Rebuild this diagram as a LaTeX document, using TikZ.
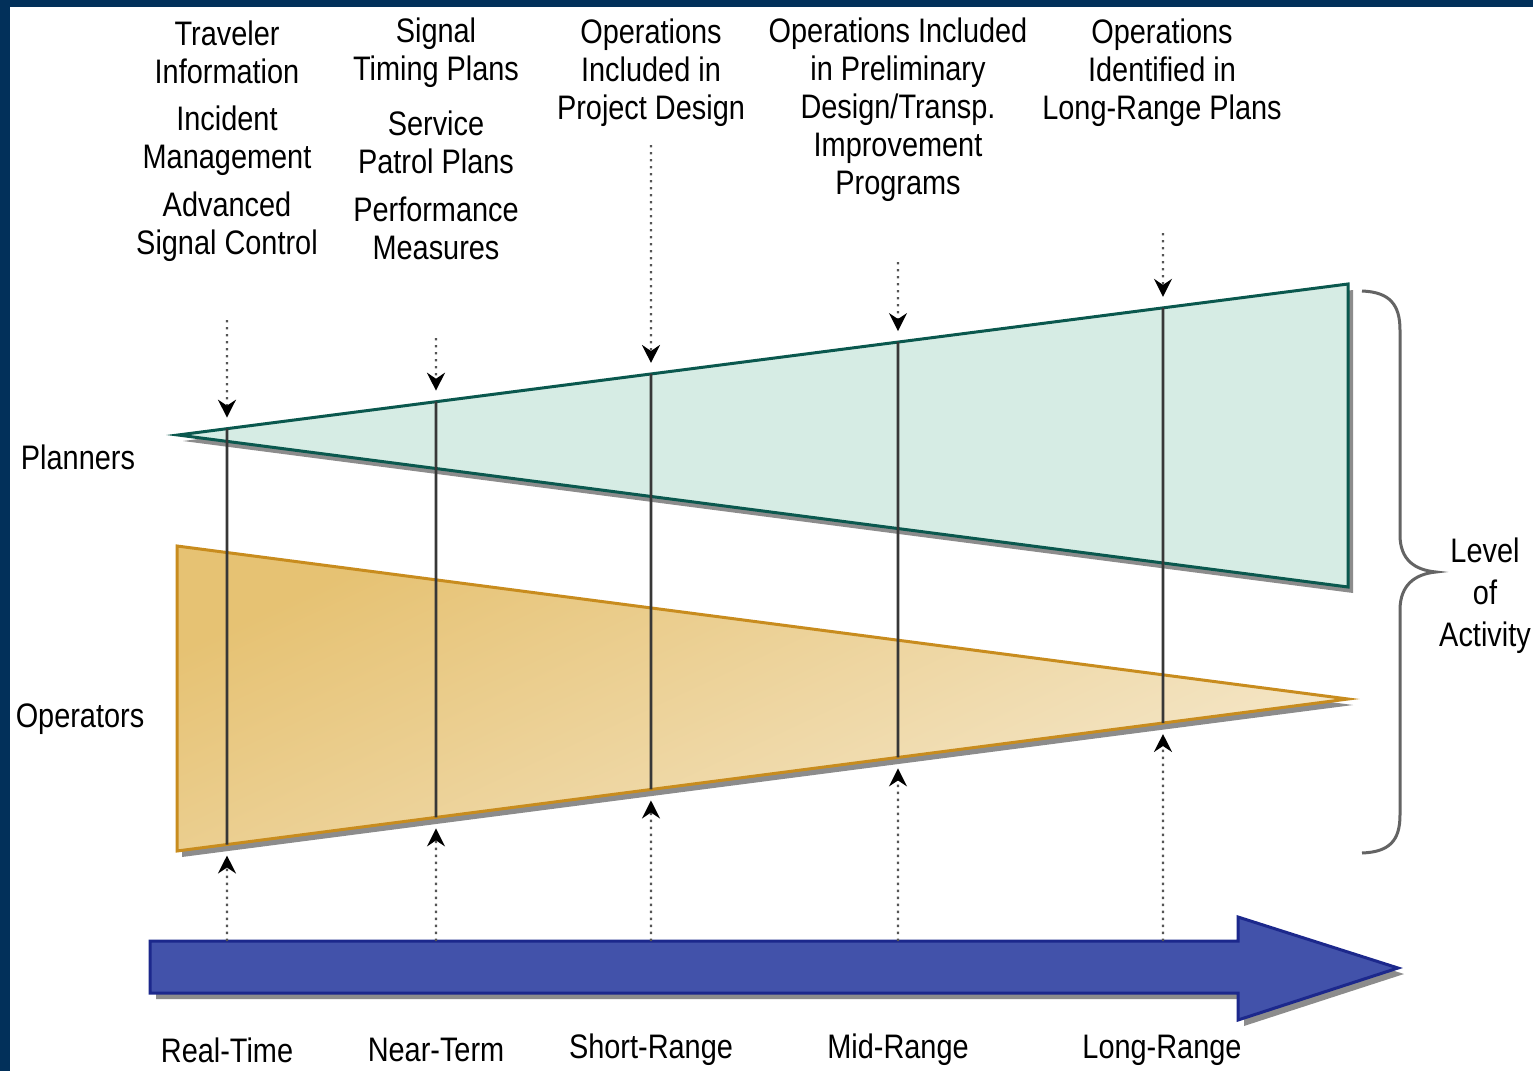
\documentclass[tikz,border=0pt]{standalone}
\usepackage{fontspec}
\setmainfont{Liberation Sans}[FakeStretch=0.85]
\usetikzlibrary{arrows.meta,calc}
\definecolor{framebl}{RGB}{2,48,90}
\definecolor{tealfill}{RGB}{214,236,228}
\definecolor{tealline}{RGB}{10,88,78}
\definecolor{tantop}{RGB}{230,194,115}
\definecolor{tanbot}{RGB}{245,232,204}
\definecolor{tanline}{RGB}{200,140,30}
\definecolor{shadowgr}{RGB}{140,140,140}
\definecolor{blfill}{RGB}{66,82,170}
\definecolor{blline}{RGB}{28,40,140}
\definecolor{vgray}{RGB}{55,55,55}
\definecolor{dotgray}{RGB}{85,85,85}
\definecolor{bracegr}{RGB}{100,100,100}
\begin{document}
\begin{tikzpicture}[x=0.5pt,y=-0.5pt,
  lab/.style={font=\fontsize{17}{19}\selectfont, align=center, inner sep=0pt},
  sidelab/.style={font=\fontsize{17}{21}\selectfont, align=center, inner sep=0pt},
  vline/.style={draw=vgray, line width=1.4pt},
  dotarrow/.style={draw=dotgray, line width=1.1pt, dash pattern=on 1.2pt off 2.3pt,
     -{Stealth[length=9pt,width=9pt,inset=3pt,black]}},
  tribox/.style={line width=1.5pt, line join=miter},
  shadowshape/.style={fill=shadowgr}]
\useasboundingbox (0,0) rectangle (1533,1071);
\fill[white] (0,0) rectangle (1533,1071);
\fill[framebl] (0,0) rectangle (1533,7);
\fill[framebl] (0,0) rectangle (10,1071);

% triangle corners
\coordinate (PA) at (178,435);
\coordinate (PT) at (1348,284);
\coordinate (PB) at (1348,587);
\coordinate (OT) at (177,546);
\coordinate (OB) at (177,851);
\coordinate (OA) at (1348,699);

% shadows
\fill[shadowshape] ([shift={(5,6)}]PA) -- ([shift={(5,6)}]PT) -- ([shift={(5,6)}]PB) -- cycle;
\fill[shadowshape] ([shift={(5,6)}]OT) -- ([shift={(5,6)}]OA) -- ([shift={(5,6)}]OB) -- cycle;

% planners triangle
\filldraw[tribox, fill=tealfill, draw=tealline] (PA) -- (PT) -- (PB) -- cycle;
% operators triangle
\shadedraw[tribox, top color=tantop, bottom color=tanbot, shading angle=25, draw=tanline]
  (OT) -- (OA) -- (OB) -- cycle;

% blue time arrow
\fill[shadowshape] (156,947) -- (1244,947) -- (1244,923) -- (1404,974) -- (1244,1026) -- (1244,999) -- (156,999) -- cycle;
\filldraw[fill=blfill, draw=blline, line width=1.5pt, line join=miter]
  (150,941) -- (1238,941) -- (1238,917) -- (1398,968) -- (1238,1020) -- (1238,993) -- (150,993) -- cycle;

% vertical lines and dotted arrows
\foreach \x/\n/\s in {227/1/320, 436/2/338, 651/3/145, 898/4/262, 1163/5/233} {
  \coordinate (top\n) at ($(PA)!{(\x-178)/1170}!(PT)$);
  \coordinate (bot\n) at ($(OB)!{(\x-177)/1171}!(OA)$);
  \coordinate (ds\n) at (\x,\s);
  \coordinate (dt\n) at ($(top\n)+(0,-11)$);
  \coordinate (us\n) at (\x,941);
  \coordinate (ut\n) at ($(bot\n)+(0,11)$);
  \draw[vline] (top\n) -- (bot\n);
  \draw[dotarrow] (ds\n) -- (dt\n);
  \draw[dotarrow] (us\n) -- (ut\n);
}

% brace
\draw[bracegr, line width=1.5pt]
  (1362,291) .. controls (1390,292) and (1400,305) .. (1400,330) -- (1400,535)
  .. controls (1400,560) and (1415,570) .. (1436,572)
  .. controls (1415,574) and (1400,585) .. (1400,610) -- (1400,815)
  .. controls (1400,840) and (1390,852) .. (1362,853);

% top labels
\node[lab] (t11) at (227,52) {Traveler\\Information};
\node[lab] (t12) at (227,141) {Incident\\Management};
\node[lab] (t13) at (227,227) {Advanced\\Signal Control};
\node[lab] (t21) at (436,53) {Signal\\Timing Plans};
\node[lab] (t22) at (436,142) {Service\\Patrol Plans};
\node[lab] (t23) at (436,228) {Performance\\Measures};
\node[lab] (t3) at (651,73) {Operations\\Included in\\Project Design};
\node[lab] (t4) at (898,110) {Operations Included\\in Preliminary\\Design/Transp.\\Improvement\\Programs};
\node[lab] (t5) at (1162,73) {Operations\\Identified in\\Long-Range Plans};

% side labels
\node[lab] (planners) at (78,457) {Planners};
\node[lab] (operators) at (80,719) {Operators};
\node[sidelab] (level) at (1485,596) {Level\\of\\Activity};

% bottom labels
\node[lab] (b1) at (227,1050) {Real-Time};
\node[lab] (b2) at (436,1050) {Near-Term};
\node[lab] (b3) at (651,1050) {Short-Range};
\node[lab] (b4) at (898,1050) {Mid-Range};
\node[lab] (b5) at (1162,1050) {Long-Range};
\end{tikzpicture}
\end{document}
